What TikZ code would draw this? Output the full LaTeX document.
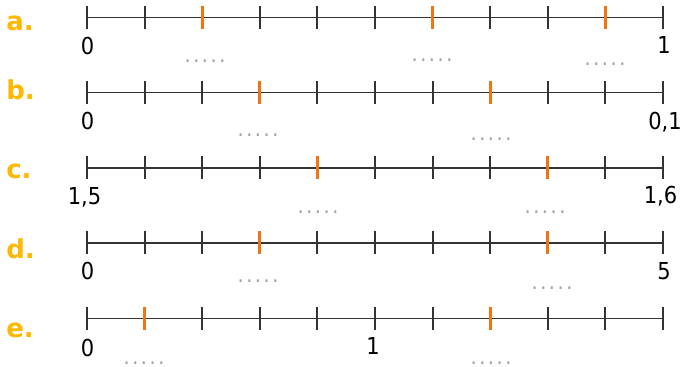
\documentclass[tikz,border=0pt]{standalone}
\usepackage{fontspec}
\setmainfont{DejaVu Sans}[FakeStretch=0.9]
\newfontfamily\letfont{DejaVu Sans}[BoldFont=DejaVu Sans Bold]
\definecolor{axisc}{HTML}{333333}
\definecolor{markc}{HTML}{F07410}
\definecolor{labc}{HTML}{FFB800}
\definecolor{dotc}{HTML}{A0A0A0}
\newcommand{\blankrow}{\makebox[6.5pt]{.}\makebox[6.5pt]{.}\makebox[6.5pt]{.}\makebox[6.5pt]{.}\makebox[6.5pt]{.}}
\tikzset{
  axisline/.style={draw=axisc, line width=1.4pt},
  tickline/.style={draw=axisc, line width=1.4pt},
  marktick/.style={draw=markc, line width=2.3pt},
  numlab/.style={inner sep=0pt, font=\fontsize{17.5}{20}\selectfont, text=black},
  rowlab/.style={inner sep=0pt, anchor=base west, font=\letfont\bfseries\fontsize{19.5}{22}\selectfont, text=labc},
  blanks/.style={inner sep=0pt, anchor=base, font=\fontsize{16}{18}\selectfont, text=dotc}
}
\begin{document}
\begin{tikzpicture}[x=0.75pt, y=-0.75pt]
\useasboundingbox (0,0) rectangle (687,367);
\foreach \r/\y in {a/17.5,b/92.5,c/168,d/243,e/318.5}{
  \foreach \i in {0,...,10}{
    \coordinate (\r\i) at ({87+57.6*\i},\y);
  }
  \draw[axisline] (\r0) -- (\r10);
  \foreach \i in {0,...,10}{
    \draw[tickline] (\r\i) ++(0,-11.5) -- ++(0,23);
  }
}
% orange marks
\foreach \r/\i in {a/2,a/6,a/9,b/3,b/7,c/4,c/8,d/3,d/8,e/1,e/7}{
  \draw[marktick] (\r\i) ++(0,-11.5) -- ++(0,23);
}
% row letters
\node[rowlab] (la) at (6,31) {a.};
\node[rowlab] (lb) at (6,100) {b.};
\node[rowlab] (lc) at (6,179) {c.};
\node[rowlab] (ld) at (6,259) {d.};
\node[rowlab] (le) at (6,338) {e.};
% numbers
\node[numlab] (na0) at (87.5,46) {0};
\node[numlab] (na1) at (664,45) {1};
\node[numlab] (nb0) at (87.5,121) {0};
\node[numlab] (nb1) at (665,122) {0,1};
\node[numlab] (nc0) at (84.5,197.5) {1,5};
\node[numlab] (nc1) at (660.5,196) {1,6};
\node[numlab] (nd0) at (87.5,271) {0};
\node[numlab] (nd1) at (664,271) {5};
\node[numlab] (ne0) at (87.5,348.5) {0};
\node[numlab] (ne1) at (373,346) {1};
% blanks
\node[blanks] (ba1) at (205,62.5) {\blankrow};
\node[blanks] (ba2) at (432,61.5) {\blankrow};
\node[blanks] (ba3) at (605,65.5) {\blankrow};
\node[blanks] (bb1) at (258,136.5) {\blankrow};
\node[blanks] (bb2) at (491,140.5) {\blankrow};
\node[blanks] (bc1) at (318,213.5) {\blankrow};
\node[blanks] (bc2) at (545,213.5) {\blankrow};
\node[blanks] (bd1) at (258,282.5) {\blankrow};
\node[blanks] (bd2) at (552,289.5) {\blankrow};
\node[blanks] (be1) at (144,364.5) {\blankrow};
\node[blanks] (be2) at (491,364.5) {\blankrow};
\end{tikzpicture}
\end{document}
